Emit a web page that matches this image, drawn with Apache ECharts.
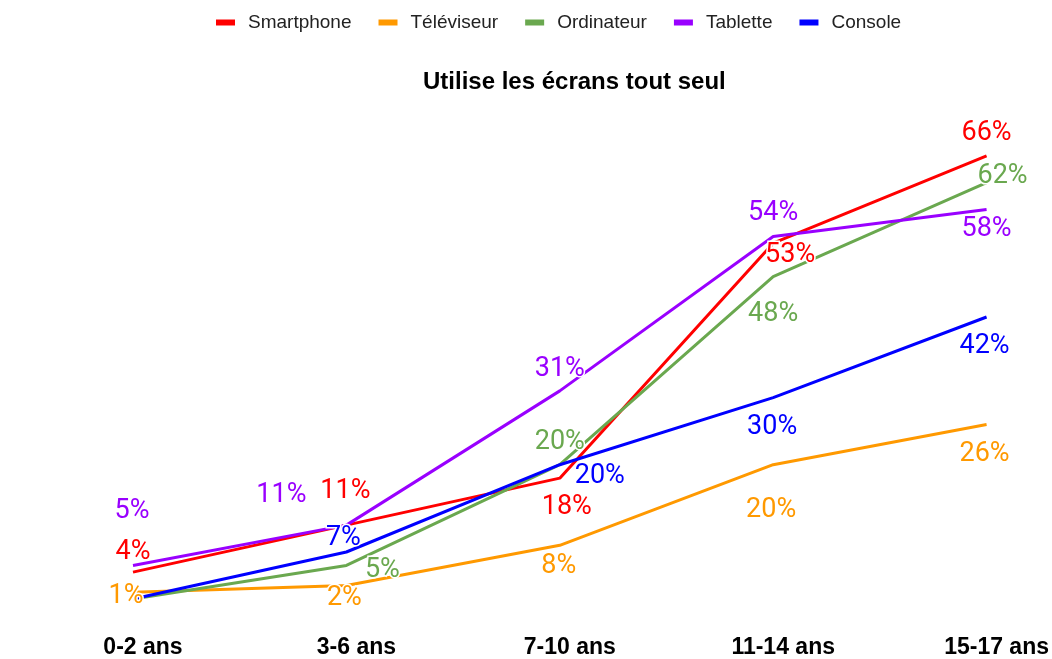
<!DOCTYPE html>
<html>
<head>
<meta charset="utf-8">
<script src="https://cdn.jsdelivr.net/npm/echarts@6/dist/echarts.min.js"></script>
<style>
  html, body { margin: 0; padding: 0; background: #fff; }
  #main { width: 1052px; height: 659px; }
</style>
</head>
<body>
<div id="main"></div>
<script>
// données
var categories = ['0-2 ans', '3-6 ans', '7-10 ans', '11-14 ans', '15-17 ans'];
var seriesNames = ['Smartphone', 'Téléviseur', 'Ordinateur', 'Tablette', 'Console'];
var smartphone = [4, 11, 18, 53, 66];
var televiseur = [1, 2, 8, 20, 26];
var ordinateur = [0, 5, 20, 48, 62];
var tablette = [5, 11, 31, 54, 58];
var consoleJeu = [0, 7, 20, 30, 42];

var colors = ['#ff0000', '#ff9900', '#6aa84f', '#9900ff', '#0000ff'];

// décalage des étiquettes (mise en page seulement)
var labelOffsets = [
    [[0, -23], [-1, -37], [7, 26], [17, 9], [0, -26]],
    [[-7, 1], [-2, 10], [-1, 18], [-2, 43], [-2, 27]],
    [null, [36, 2], [0, -25], [0, 35], [16, -9]],
    [[-1, -57], [-65, -33], [0, -25], [0, -26], [0, 17]],
    [null, [-3, -17], [40, 9], [-1, 27], [-2, 26]]
];

window.onload = function () {
    var myChart = echarts.init(document.getElementById('main'));
    var allValues = [smartphone, televiseur, ordinateur, tablette, consoleJeu];

    var series = allValues.map(function (vals, i) {
        return {
            name: seriesNames[i],
            type: 'line',
            symbol: 'circle',
            symbolSize: 0,
            lineStyle: { width: 3, color: colors[i] },
            itemStyle: { color: colors[i] },
            data: vals.map(function (v, j) {
                var off = labelOffsets[i][j];
                return {
                    value: v,
                    // +3 px : recentrage vertical du texte
                    label: off ? { offset: [off[0], off[1] + 3] } : { show: false }
                };
            }),
            label: {
                show: true,
                position: 'inside',
                formatter: '{c}%',
                color: colors[i],
                fontFamily: 'Roboto',
                fontSize: 27,
                textBorderColor: '#fff',
                textBorderWidth: 3
            }
        };
    });

    var option = {
        animation: false,
        color: colors,
        title: {
            text: 'Utilise les écrans tout seul',
            left: 418,
            top: 65,
            textStyle: {
                fontFamily: 'Liberation Sans',
                fontWeight: 'bold',
                fontSize: 24,
                color: '#000'
            }
        },
        legend: {
            left: 211,
            top: 8,
            icon: 'rect',
            itemWidth: 19,
            itemHeight: 6,
            itemGap: 27,
            data: seriesNames,
            textStyle: {
                fontFamily: 'Liberation Sans',
                fontSize: 19,
                color: '#222',
                padding: [0, 0, 0, 8]
            }
        },
        grid: {
            left: 133,
            right: 65,
            top: 129,
            bottom: 60
        },
        xAxis: {
            type: 'category',
            boundaryGap: false,
            data: categories,
            axisLine: { show: false },
            axisTick: { show: false },
            splitLine: { show: false },
            axisLabel: {
                margin: 37,
                fontFamily: 'Liberation Sans',
                fontWeight: 'bold',
                fontSize: 23,
                color: '#000',
                padding: [0, 0, 0, 20]
            }
        },
        yAxis: {
            type: 'value',
            min: 0,
            max: 70,
            show: false
        },
        series: series
    };

    myChart.setOption(option);
};
</script>
</body>
</html>
